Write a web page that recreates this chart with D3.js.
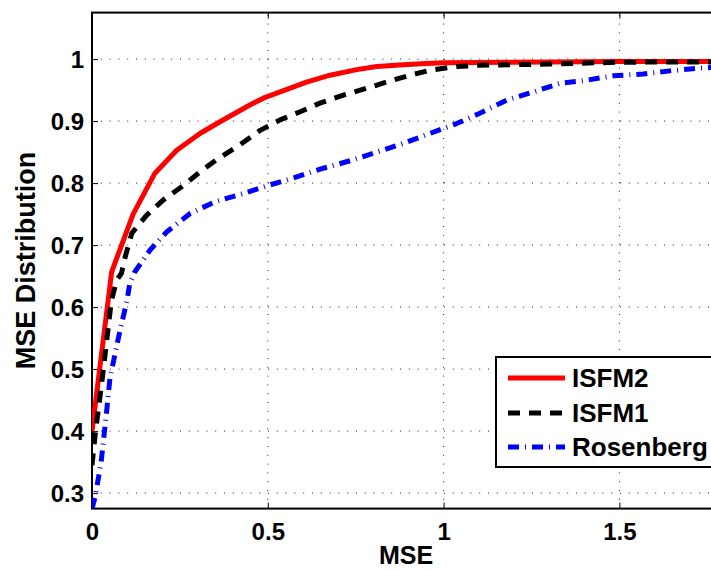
<!DOCTYPE html>
<html>
<head>
<meta charset="utf-8">
<script src="https://cdn.jsdelivr.net/npm/d3@7/dist/d3.min.js"></script>
<style>
  html, body { margin: 0; padding: 0; background: #fff; }
  svg { display: block; }
  text { font-family: "Liberation Sans", Arial, Helvetica, sans-serif; font-weight: bold; fill: #000; }
</style>
</head>
<body>
<svg id="chart" width="711" height="570"></svg>
<script>
// Cumulative MSE distribution for three methods
const isfm2X = [0, 0.056, 0.117, 0.179, 0.241, 0.307, 0.364, 0.449, 0.487, 0.535, 0.61, 0.677, 0.753, 0.81, 0.885, 0.95, 1.0, 1.2, 1.5, 2.0];
const isfm2Y = [0.40, 0.657, 0.750, 0.816, 0.853, 0.880, 0.899, 0.926, 0.937, 0.947, 0.963, 0.974, 0.983, 0.988, 0.991, 0.993, 0.994, 0.995, 0.996, 0.996];

const isfm1X = [0, 0.009, 0.032, 0.055, 0.070, 0.084, 0.094, 0.113, 0.155, 0.203, 0.255, 0.307, 0.355, 0.421, 0.478, 0.535, 0.592, 0.648, 0.715, 0.781, 0.838, 0.904, 0.961, 1.037, 1.10, 1.3, 1.5, 2.0];
const isfm1Y = [0.345, 0.394, 0.498, 0.610, 0.643, 0.655, 0.680, 0.719, 0.748, 0.773, 0.794, 0.818, 0.838, 0.862, 0.885, 0.902, 0.915, 0.929, 0.942, 0.953, 0.963, 0.974, 0.982, 0.988, 0.990, 0.992, 0.995, 0.996];

const rosenX = [0, 0.009, 0.026, 0.042, 0.051, 0.065, 0.08, 0.099, 0.108, 0.122, 0.165, 0.212, 0.279, 0.35, 0.43, 0.506, 0.582, 0.658, 0.734, 0.81, 0.885, 0.961, 1.037, 1.10, 1.18, 1.255, 1.331, 1.407, 1.483, 1.568, 1.644, 1.72, 1.8, 2.0];
const rosenY = [0.275, 0.294, 0.35, 0.434, 0.485, 0.523, 0.563, 0.609, 0.640, 0.657, 0.692, 0.721, 0.751, 0.770, 0.783, 0.797, 0.810, 0.824, 0.836, 0.850, 0.864, 0.880, 0.896, 0.912, 0.934, 0.947, 0.961, 0.966, 0.973, 0.976, 0.981, 0.985, 0.988, 0.992];

const seriesNames = ["ISFM2", "ISFM1", "Rosenberg"];
const xTicks = [0, 0.5, 1, 1.5];
const yTicks = [0.3, 0.4, 0.5, 0.6, 0.7, 0.8, 0.9, 1];
const xTitle = "MSE";
const yTitle = "MSE Distribution";

const svg = d3.select("#chart");
const plotLeft = 92, plotTop = 12.6, plotBottom = 508.6;
const x = d3.scaleLinear().domain([0, 2]).range([plotLeft, plotLeft + 703.2]);
const y = d3.scaleLinear().domain([0.275, 1.075]).range([plotBottom, plotTop]);
const plotRight = x(2);

const series = [
  { name: seriesNames[0], xs: isfm2X, ys: isfm2Y, color: "#ff0000", dash: null },
  { name: seriesNames[1], xs: isfm1X, ys: isfm1Y, color: "#000000", dash: "12,9" },
  { name: seriesNames[2], xs: rosenX, ys: rosenY, color: "#0000ff", dash: "11,6,1,6" }
];

svg.append("defs").append("clipPath").attr("id", "plotClip")
  .append("rect").attr("x", plotLeft).attr("y", plotTop)
  .attr("width", plotRight - plotLeft).attr("height", plotBottom - plotTop);

// dotted grid
const grid = svg.append("g").attr("stroke", "#222").attr("stroke-width", 1).attr("stroke-dasharray", "1,7.8");
grid.selectAll(".gx").data(xTicks.filter(d => d > 0)).join("line")
  .attr("x1", d => x(d)).attr("x2", d => x(d)).attr("y1", plotBottom).attr("y2", plotTop);
grid.selectAll(".gy").data(yTicks).join("line")
  .attr("y1", d => y(d)).attr("y2", d => y(d)).attr("x1", plotLeft).attr("x2", plotRight);

// axes with inward ticks
const xAxis = d3.axisBottom(x).tickValues(xTicks).tickSize(-6).tickPadding(14).tickFormat(d3.format("~g"));
const gx = svg.append("g").attr("transform", `translate(0,${plotBottom})`).call(xAxis);
const yAxis = d3.axisLeft(y).tickValues(yTicks).tickSize(-6).tickPadding(8).tickFormat(d3.format("~g"));
const gy = svg.append("g").attr("transform", `translate(${plotLeft},0)`).call(yAxis);
const gxTop = svg.append("g").attr("transform", `translate(0,${plotTop})`)
  .call(d3.axisTop(x).tickValues(xTicks).tickSize(-6).tickFormat(""));
[gx, gy, gxTop].forEach(g => {
  g.select(".domain").remove();
  g.selectAll(".tick line").attr("stroke", "#000").attr("stroke-width", 1);
  g.selectAll("text").style("font-size", "24px").attr("fill", "#000");
});
gx.selectAll(".tick text").attr("dy", "0.71em");
gy.selectAll(".tick text").attr("dy", "0.36em");

// frame
svg.append("rect").attr("x", plotLeft).attr("y", plotTop)
  .attr("width", plotRight - plotLeft).attr("height", plotBottom - plotTop)
  .attr("fill", "none").attr("stroke", "#000").attr("stroke-width", 2);

// curves
const line = d3.line().x(d => x(d[0])).y(d => y(d[1]));
const plot = svg.append("g").attr("clip-path", "url(#plotClip)");
series.forEach(s => {
  plot.append("path")
    .datum(s.xs.map((v, i) => [v, s.ys[i]]))
    .attr("d", line)
    .attr("fill", "none")
    .attr("stroke", s.color)
    .attr("stroke-width", 5)
    .attr("stroke-linejoin", "round")
    .attr("stroke-dasharray", s.dash);
});

// axis titles
svg.append("text").attr("x", 406).attr("y", 564)
  .attr("text-anchor", "middle").style("font-size", "25px").text(xTitle);
svg.append("text").attr("transform", `translate(35,${(plotTop + plotBottom) / 2}) rotate(-90)`)
  .attr("text-anchor", "middle").style("font-size", "27px").text(yTitle);

// legend
const lg = svg.append("g");
lg.append("rect").attr("x", 496).attr("y", 357).attr("width", 300).attr("height", 110)
  .attr("fill", "#fff").attr("stroke", "#000").attr("stroke-width", 2);
const rowY = [378, 413, 447];
series.forEach((s, i) => {
  lg.append("line").attr("x1", 508).attr("x2", 565).attr("y1", rowY[i]).attr("y2", rowY[i])
    .attr("stroke", s.color).attr("stroke-width", 5).attr("stroke-dasharray", s.dash);
  lg.append("text").attr("x", 572).attr("y", rowY[i]).attr("dy", "0.36em")
    .style("font-size", "26px").text(s.name);
});
</script>
</body>
</html>
